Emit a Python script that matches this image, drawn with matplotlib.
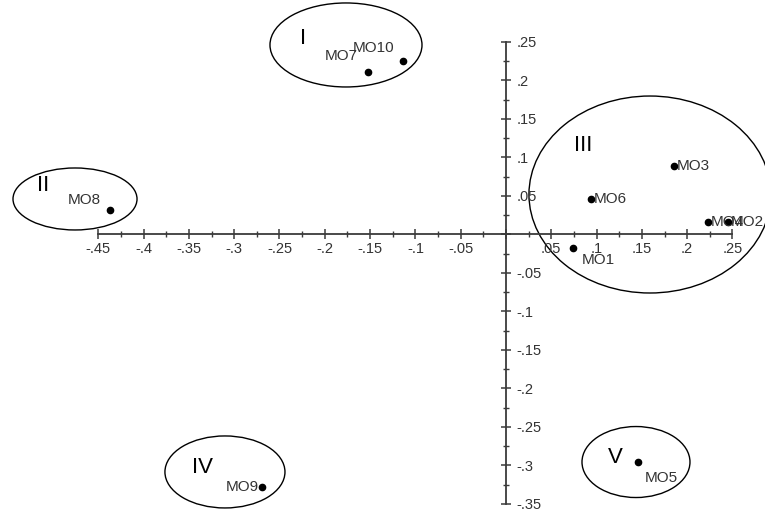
import matplotlib
matplotlib.use("Agg")
import matplotlib.pyplot as plt
from matplotlib.patches import Ellipse
from matplotlib.ticker import FuncFormatter

plt.rcParams['font.family'] = ['Liberation Sans', 'DejaVu Sans']

# point coordinates
names = ['MO1', 'MO2', 'MO3', 'MO4', 'MO5', 'MO6', 'MO7', 'MO8', 'MO9', 'MO10']
xs = [0.074, 0.245, 0.185, 0.223, 0.146, 0.094, -0.152, -0.437, -0.269, -0.114]
ys = [-0.018, 0.016, 0.089, 0.016, -0.296, 0.046, 0.211, 0.032, -0.328, 0.225]

# groups: name, centre x, centre y, width, height, label x, label y
groups = ['I', 'II', 'III', 'IV', 'V']
grp_cx = [-0.1766, -0.4757, 0.1589, -0.3102, 0.1435]
grp_cy = [0.2461, 0.0461, 0.0519, -0.3084, -0.2955]
grp_w = [0.1678, 0.1369, 0.2671, 0.1325, 0.1192]
grp_h = [0.1091, 0.0805, 0.2558, 0.0935, 0.0922]
grp_lx = [-0.224, -0.511, 0.085, -0.3355, 0.1203]
grp_ly = [0.255, 0.064, 0.116, -0.302, -0.289]

# label placement (offset in pixels, alignment)
lab_off = {'MO1': (25, -12, 'center'), 'MO2': (3, 0, 'left'), 'MO3': (3, 0, 'left'),
           'MO4': (3, 0, 'left'), 'MO5': (23, -16, 'center'), 'MO6': (3, 0, 'left'),
           'MO7': (-27, 16, 'center'), 'MO8': (-26, 10, 'center'),
           'MO9': (-3, 0, 'right'), 'MO10': (-29, 13, 'center')}


def fmt(v, pos):
    if abs(v) < 1e-9:
        return ''
    s = ('%.2f' % abs(v)).rstrip('0').lstrip('0')
    return ('-' if v < 0 else '') + s


fig = plt.figure(figsize=(7.65, 5.12), dpi=100)
ax = fig.add_axes([0, 0, 1, 1])
ax.set_xlim(-0.5585, 0.2859)
ax.set_ylim(-0.3604, 0.3045)

axcol = '#3a3a3a'
ax.spines['top'].set_visible(False)
ax.spines['left'].set_visible(False)
ax.spines['bottom'].set_position(('data', 0))
ax.spines['right'].set_position(('data', 0))
ax.spines['bottom'].set_bounds(-0.45, 0.25)
ax.spines['right'].set_bounds(-0.35, 0.25)
for s in ['bottom', 'right']:
    ax.spines[s].set_color(axcol)
    ax.spines[s].set_linewidth(1.3)

ax.yaxis.tick_right()
ax.set_xticks([t * 0.05 for t in range(-9, 6)])
ax.set_yticks([t * 0.05 for t in range(-7, 6)])
ax.set_xticks([t * 0.025 for t in range(-18, 11)], minor=True)
ax.set_yticks([t * 0.025 for t in range(-14, 11)], minor=True)
ax.xaxis.set_major_formatter(FuncFormatter(fmt))
ax.yaxis.set_major_formatter(FuncFormatter(fmt))
ax.tick_params(which='major', direction='inout', length=7, width=1.1, color=axcol,
               labelsize=10.5, labelcolor='#333333', pad=2)
ax.tick_params(which='minor', direction='inout', length=5, width=1.0, color=axcol)
ax.tick_params(axis='y', which='both', left=False, right=True)
ax.tick_params(axis='y', which='major', pad=4)

# points and their labels
ax.plot(xs, ys, 'o', color='black', markersize=4.5, zorder=3)
for n, x, y in zip(names, xs, ys):
    dx, dy, ha = lab_off[n]
    ax.annotate(n, (x, y), xytext=(dx, dy), textcoords='offset pixels',
                ha=ha, va='center', fontsize=11, color='#333333')

# group ellipses
for g, cx, cy, w, h, lx, ly in zip(groups, grp_cx, grp_cy, grp_w, grp_h, grp_lx, grp_ly):
    ax.add_patch(Ellipse((cx, cy), w, h, fill=False, edgecolor='black', linewidth=1.0))
    ax.text(lx, ly, g, ha='center', va='center', fontsize=16, color='black')

fig.savefig('out.png', dpi=100)
